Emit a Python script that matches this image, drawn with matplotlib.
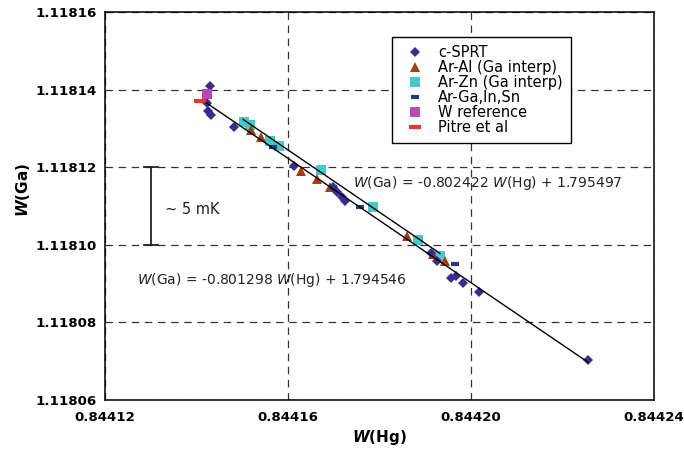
import matplotlib
matplotlib.use("Agg")
import matplotlib.pyplot as plt
import numpy as np

# c-SPRT
sprt_x = [0.8441430, 0.8441423, 0.8441425, 0.8441432, 0.8441482, 0.8441613,
          0.8441698, 0.8441707, 0.8441718, 0.8441725, 0.8441913, 0.8441926,
          0.8441956, 0.8441967, 0.8441983, 0.8442018, 0.8442256]
sprt_y = [1.1181409, 1.1181366, 1.1181345, 1.1181335, 1.1181304, 1.1181203,
          1.1181149, 1.1181136, 1.1181123, 1.1181113, 1.1180979, 1.1180958,
          1.1180914, 1.1180920, 1.1180902, 1.1180878, 1.1180703]

# Ar-Al (Ga interp)
al_x = [0.8441519, 0.8441541, 0.8441628, 0.8441663, 0.8441692, 0.8441860,
        0.8441917, 0.8441943]
al_y = [1.1181296, 1.1181278, 1.1181190, 1.1181170, 1.1181149, 1.1181023,
        1.1180976, 1.1180958]

# Ar-Zn (Ga interp)
zn_x = [0.8441504, 0.8441517, 0.8441561, 0.8441580, 0.8441672, 0.8441786,
        0.8441884, 0.8441932]
zn_y = [1.1181316, 1.1181309, 1.1181268, 1.1181255, 1.1181193, 1.1181097,
        1.1181012, 1.1180971]

# Ar-Ga,In,Sn
ga_x = [0.8441567, 0.8441698, 0.8441757, 0.8441965]
ga_y = [1.1181252, 1.1181149, 1.1181097, 1.1180951]

# W reference / Pitre et al
wref_x = [0.8441423]
wref_y = [1.1181389]
pitre_x = [0.8441408]
pitre_y = [1.1181371]

# fitted lines: slope, intercept, x range
fit1 = (-0.801298, 1.794546, 0.8441421, 0.8442256)
fit2 = (-0.802422, 1.795497, 0.8441502, 0.8441932)

x_ticks = [0.84412, 0.84416, 0.84420, 0.84424]
y_ticks = [1.11806, 1.11808, 1.11810, 1.11812, 1.11814, 1.11816]

# ~5 mK bracket
bracket_x = 0.8441301
bracket_y = [1.11810, 1.11812]

plt.rcParams.update({
    "font.family": "DejaVu Sans",
    "mathtext.fontset": "custom",
    "mathtext.it": "DejaVu Sans:italic",
    "mathtext.bf": "DejaVu Sans:bold",
    "mathtext.bfit": "DejaVu Sans:bold:italic",
    "mathtext.rm": "DejaVu Sans",
})

fig = plt.figure(figsize=(6.84, 4.53), dpi=100)
ax = fig.add_axes([105 / 684, 53 / 453, 549 / 684, 388 / 453])

ax.set_xlim(x_ticks[0], x_ticks[-1])
ax.set_ylim(y_ticks[0], y_ticks[-1])
ax.set_xticks(x_ticks)
ax.set_xticklabels([f"{v:.5f}" for v in x_ticks], fontsize=9.6, fontweight="bold")
ax.set_yticks(y_ticks)
ax.set_yticklabels([f"{v:.5f}" for v in y_ticks], fontsize=9.6, fontweight="bold")
ax.tick_params(axis="both", length=0)
ax.tick_params(axis="x", pad=8)
ax.tick_params(axis="y", pad=6)
for s in ax.spines.values():
    s.set_linewidth(1.1)
    s.set_color("black")

ax.grid(True, color="#333333", linestyle=(0, (6, 4.5)), linewidth=0.9)
ax.set_axisbelow(True)

# markers
h_zn, = ax.plot(zn_x, zn_y, "s", color="#48C9C9", ms=7, mew=0, ls="none", zorder=2)
h_al, = ax.plot(al_x, al_y, "^", color="#A3400C", ms=7, mew=0, ls="none", zorder=2.1)
h_sp, = ax.plot(sprt_x, sprt_y, "D", color="#3A2C8E", ms=5.5, mew=0, ls="none", zorder=2.2)
h_ga, = ax.plot(ga_x, ga_y, "_", color="#1E3F7C", ms=6, mew=3, ls="none", zorder=2.3)
h_w, = ax.plot(wref_x, wref_y, "s", color="#B54AB5", ms=7, mew=0, ls="none", zorder=2.4)
h_pi, = ax.plot(pitre_x, pitre_y, "_", color="#E8382C", ms=8, mew=3, ls="none", zorder=2.5)

# fit lines
for slope, icpt, x0, x1 in (fit1, fit2):
    xs = np.array([x0, x1])
    ax.plot(xs, slope * xs + icpt, color="black", lw=1.0, zorder=3)

ax.text(0.8441742, 1.1181159, r"$\mathit{W}$(Ga) = -0.802422 $\mathit{W}$(Hg) + 1.795497",
        fontsize=10, va="center", ha="left", color="#222222")
ax.text(0.8441270, 1.1180909, r"$\mathit{W}$(Ga) = -0.801298 $\mathit{W}$(Hg) + 1.794546",
        fontsize=10, va="center", ha="left", color="#222222")

# bracket
cap = 0.0000015
ax.plot([bracket_x, bracket_x], bracket_y, color="#222222", lw=1.3, zorder=3)
for yb in bracket_y:
    ax.plot([bracket_x - cap, bracket_x + cap], [yb, yb], color="#222222", lw=1.3, zorder=3)
ax.text(0.8441331, 1.1181090, "~ 5 mK", fontsize=10.5, va="center", ha="left", color="#222222")

ax.set_xlabel(r"$\mathbfit{W}$(Hg)", fontsize=11, fontweight="bold")
ax.set_ylabel(r"$\mathbfit{W}$(Ga)", fontsize=11, fontweight="bold")
ax.yaxis.set_label_coords(-0.133, 0.541)
ax.xaxis.set_label_coords(0.5, -0.072)

leg = ax.legend([h_sp, h_al, h_zn, h_ga, h_w, h_pi],
                ["c-SPRT", "Ar-Al (Ga interp)", "Ar-Zn (Ga interp)", "Ar-Ga,In,Sn",
                 "W reference", "Pitre et al"],
                loc="upper left", bbox_to_anchor=(0.523, 0.9356), fontsize=10.5,
                frameon=True, fancybox=False, edgecolor="black", framealpha=1,
                labelspacing=0.0, handlelength=2.0, handletextpad=0.6,
                borderpad=0.55, borderaxespad=0)
leg.get_frame().set_linewidth(1.0)

fig.savefig("out.png", dpi=100)
